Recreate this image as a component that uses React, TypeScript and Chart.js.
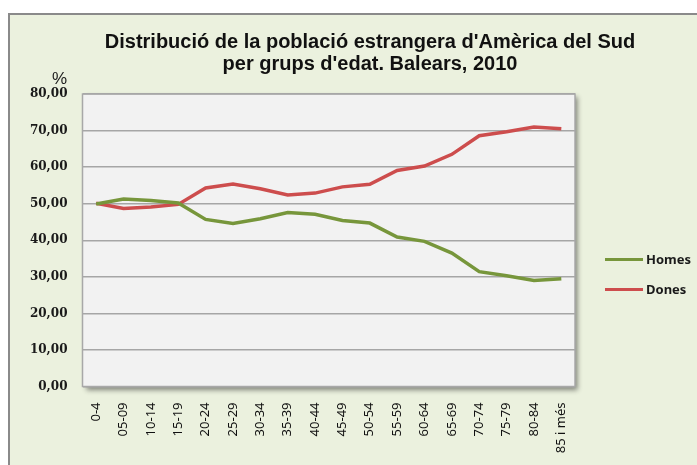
import React, { useEffect, useRef } from "react";
import { Chart, registerables } from "chart.js";

Chart.register(...registerables);

const categories = ["0-4", "05-09", "10-14", "15-19", "20-24", "25-29", "30-34", "35-39", "40-44", "45-49", "50-54", "55-59", "60-64", "65-69", "70-74", "75-79", "80-84", "85 i més"];
const homes = [49.9, 51.3, 50.9, 50.2, 45.7, 44.6, 45.9, 47.6, 47.1, 45.4, 44.7, 40.9, 39.7, 36.5, 31.4, 30.3, 29.0, 29.5];
const dones = [50.1, 48.7, 49.1, 49.8, 54.3, 55.4, 54.1, 52.4, 52.9, 54.6, 55.3, 59.1, 60.3, 63.5, 68.6, 69.7, 71.0, 70.5];
const yTicks = [0, 10, 20, 30, 40, 50, 60, 70, 80];
const seriesNames = ["Homes", "Dones"];
const titleLines = ["Distribució de la població estrangera d'Amèrica del Sud", "per grups d'edat. Balears, 2010"];

const GREEN = "#77963B";
const RED = "#CD4D4D";

const plotBg = {
  id: "plotBg",
  beforeDraw(chart: any) {
    const { ctx, chartArea: a } = chart;
    ctx.save();
    ctx.shadowColor = "rgba(0,0,0,0.45)";
    ctx.shadowBlur = 5;
    ctx.shadowOffsetX = 3;
    ctx.shadowOffsetY = 3;
    ctx.fillStyle = "#F2F2F2";
    ctx.fillRect(a.left, a.top, a.right - a.left, a.bottom - a.top);
    ctx.restore();
  },
  beforeDatasetsDraw(chart: any) {
    const { ctx, chartArea: a } = chart;
    ctx.save();
    ctx.strokeStyle = "#A8A8A8";
    ctx.lineWidth = 1.5;
    ctx.strokeRect(a.left, a.top, a.right - a.left, a.bottom - a.top);
    ctx.restore();
  },
};

export default function App() {
  const ref = useRef<HTMLCanvasElement>(null);
  useEffect(() => {
    if (!ref.current) return;
    const chart = new Chart(ref.current, {
      type: "line",
      data: {
        labels: categories,
        datasets: [
          { label: seriesNames[0], data: homes, borderColor: GREEN, backgroundColor: GREEN, borderWidth: 3.5, pointRadius: 0, tension: 0 },
          { label: seriesNames[1], data: dones, borderColor: RED, backgroundColor: RED, borderWidth: 3.5, pointRadius: 0, tension: 0 },
        ],
      },
      options: {
        animation: false,
        responsive: false,
        layout: { padding: { left: 0, top: 94, right: 122, bottom: 0 } },
        plugins: { legend: { display: false }, title: { display: false }, tooltip: { enabled: false } },
        scales: {
          x: {
            offset: true,
            afterFit: (s: any) => { s.height = 78.5; },
            grid: { display: false, drawTicks: false },
            border: { display: false },
            ticks: { maxRotation: 90, minRotation: 90, padding: 16, color: "#111", font: { family: "Noto Sans", size: 13 } },
          },
          y: {
            min: 0,
            max: 80,
            afterFit: (s: any) => { s.width = 82.5; },
            afterBuildTicks: (s: any) => { s.ticks = yTicks.map((v) => ({ value: v })); },
            grid: { color: "#A6A6A6", lineWidth: 1.4, drawTicks: false },
            border: { display: false },
            ticks: {
              padding: 15,
              color: "#1a1a1a",
              font: { family: "DejaVu Serif", size: 12, weight: "bold" },
              callback: (v: any) => Number(v).toFixed(2).replace(".", ","),
            },
          },
        },
      },
      plugins: [plotBg],
    });
    return () => chart.destroy();
  }, []);

  const legendColors = [GREEN, RED];
  return (
    <div style={{ position: "absolute", left: 0, top: 0, width: 697, height: 465, overflow: "hidden" }}>
      <div style={{ position: "absolute", left: 8, top: 13, width: 700, height: 460, borderTop: "2px solid #8a8a8a", borderLeft: "2px solid #8a8a8a", background: "#EBF1DE" }} />
      <canvas ref={ref} width={697} height={465} style={{ position: "absolute", left: 0, top: 0, width: 697, height: 465 }} />
      <div style={{ position: "absolute", left: 20, top: 30, width: 700, textAlign: "center", fontFamily: "Liberation Sans, Arial, sans-serif", fontWeight: "bold", fontSize: 20, lineHeight: "22px", color: "#111" }}>
        {titleLines.map((t) => (<div key={t}>{t}</div>))}
      </div>
      <div style={{ position: "absolute", left: 27, top: 70, width: 40, textAlign: "right", fontFamily: "Liberation Sans, Arial, sans-serif", fontSize: 17, lineHeight: "17px", color: "#1a1a1a" }}>%</div>
      {seriesNames.map((n, i) => (
        <div key={n} style={{ position: "absolute", left: 605, top: 250 + i * 30, height: 18, display: "flex", alignItems: "center" }}>
          <div style={{ width: 38, height: 3, background: legendColors[i] }} />
          <div style={{ marginLeft: 3, fontFamily: "Noto Sans", fontWeight: "bold", fontSize: 13, color: "#1a1a1a" }}>{n}</div>
        </div>
      ))}
    </div>
  );
}
